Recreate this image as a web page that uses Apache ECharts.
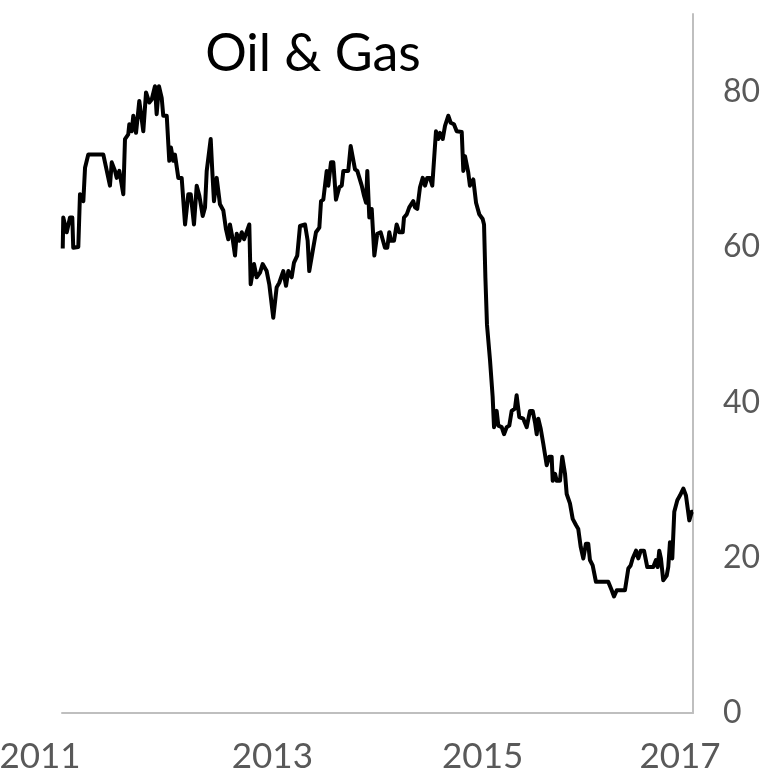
<!DOCTYPE html>
<html>
<head>
<meta charset="utf-8">
<script src="https://cdn.jsdelivr.net/npm/echarts@6/dist/echarts.min.js"></script>
<style>
  html, body { margin: 0; padding: 0; background: #fff; }
  #chart { width: 769px; height: 779px; }
</style>
</head>
<body>
<div id="chart"></div>
<script>
// decimal years
const dates = [
  2011.007, 2011.012, 2011.045, 2011.076, 2011.098, 2011.107, 2011.155, 2011.171, 2011.203, 2011.219,
  2011.250, 2011.393, 2011.456, 2011.473, 2011.504, 2011.520, 2011.545, 2011.583, 2011.599, 2011.630,
  2011.640, 2011.663, 2011.678, 2011.704, 2011.735, 2011.773, 2011.799, 2011.830, 2011.853, 2011.884,
  2011.900, 2011.922, 2011.948, 2011.963, 2011.996, 2012.020, 2012.036, 2012.058, 2012.074, 2012.106,
  2012.138, 2012.170, 2012.201, 2012.224, 2012.255, 2012.281, 2012.306, 2012.338, 2012.360, 2012.376,
  2012.391, 2012.414, 2012.429, 2012.445, 2012.471, 2012.502, 2012.534, 2012.559, 2012.581, 2012.597,
  2012.623, 2012.645, 2012.661, 2012.686, 2012.709, 2012.731, 2012.750, 2012.781, 2012.794, 2012.826,
  2012.851, 2012.883, 2012.908, 2012.946, 2012.971, 2013.009, 2013.041, 2013.066, 2013.104, 2013.130,
  2013.152, 2013.184, 2013.206, 2013.237, 2013.263, 2013.311, 2013.336, 2013.351, 2013.384, 2013.415,
  2013.447, 2013.463, 2013.485, 2013.517, 2013.532, 2013.558, 2013.580, 2013.605, 2013.637, 2013.660,
  2013.675, 2013.722, 2013.745, 2013.764, 2013.786, 2013.808, 2013.850, 2013.872, 2013.891, 2013.903,
  2013.922, 2013.945, 2013.970, 2013.998, 2014.030, 2014.049, 2014.071, 2014.093, 2014.112, 2014.128,
  2014.157, 2014.182, 2014.207, 2014.240, 2014.252, 2014.278, 2014.302, 2014.340, 2014.357, 2014.378,
  2014.404, 2014.430, 2014.452, 2014.473, 2014.499, 2014.521, 2014.556, 2014.578, 2014.594, 2014.620,
  2014.642, 2014.673, 2014.696, 2014.727, 2014.753, 2014.801, 2014.816, 2014.832, 2014.863, 2014.879,
  2014.911, 2014.937, 2014.968, 2015.000, 2015.013, 2015.026, 2015.041, 2015.070, 2015.095, 2015.108,
  2015.133, 2015.149, 2015.181, 2015.203, 2015.228, 2015.253, 2015.276, 2015.307, 2015.323, 2015.348,
  2015.386, 2015.419, 2015.450, 2015.476, 2015.498, 2015.514, 2015.529, 2015.552, 2015.576, 2015.609,
  2015.634, 2015.656, 2015.666, 2015.688, 2015.704, 2015.735, 2015.757, 2015.783, 2015.799, 2015.830,
  2015.856, 2015.887, 2015.909, 2015.932, 2015.957, 2015.982, 2016.004, 2016.020, 2016.046, 2016.061,
  2016.077, 2016.194, 2016.227, 2016.249, 2016.275, 2016.353, 2016.385, 2016.407, 2016.426, 2016.458,
  2016.480, 2016.503, 2016.534, 2016.565, 2016.622, 2016.648, 2016.664, 2016.679, 2016.695, 2016.717,
  2016.750, 2016.765, 2016.781, 2016.803, 2016.822, 2016.851, 2016.876, 2016.908, 2016.933, 2016.949,
  2016.965, 2016.988, 2017.000
];

const values = [
  59.8, 63.8, 61.9, 63.8, 63.8, 59.9, 60.0, 66.8, 65.9, 70.2,
  71.9, 71.9, 67.9, 70.9, 69.8, 68.9, 69.8, 66.8, 73.9, 74.5,
  75.8, 74.9, 76.9, 74.7, 78.8, 74.9, 79.9, 78.6, 79.0, 80.7,
  77.1, 80.7, 79.2, 76.9, 76.9, 71.1, 72.8, 71.1, 71.9, 68.9,
  68.9, 62.9, 66.8, 66.8, 62.9, 67.9, 66.6, 64.0, 65.1, 69.8,
  70.0, 73.9, 69.8, 65.9, 68.9, 65.5, 64.7, 62.3, 61.0, 62.9,
  61.0, 58.9, 61.7, 60.8, 61.9, 61.0, 61.7, 62.9, 55.2, 57.8,
  56.1, 56.7, 57.8, 56.9, 55.2, 50.9, 54.8, 55.4, 56.9, 55.0,
  56.9, 56.1, 58.0, 58.9, 62.7, 62.9, 60.8, 56.9, 59.5, 61.9,
  62.5, 65.9, 66.1, 69.8, 67.9, 70.9, 70.9, 66.1, 67.7, 67.9,
  69.8, 69.8, 73.0, 72.8, 70.0, 69.8, 67.9, 66.6, 65.7, 69.8,
  63.8, 64.9, 58.9, 61.7, 61.9, 61.9, 59.9, 59.9, 61.9, 60.8,
  60.8, 62.9, 61.9, 61.9, 63.8, 64.2, 65.1, 65.9, 65.1, 64.9,
  67.7, 68.9, 67.9, 68.9, 68.9, 67.9, 74.9, 73.9, 74.7, 73.9,
  75.6, 76.9, 76.0, 75.8, 74.9, 74.8, 69.8, 71.7, 69.6, 67.9,
  68.7, 65.7, 64.2, 63.6, 62.9, 56.0, 50.0, 45.4, 40.7, 36.8,
  38.9, 37.0, 36.8, 35.9, 36.8, 37.0, 38.9, 39.2, 40.9, 38.1,
  37.9, 36.8, 38.9, 38.9, 37.4, 35.9, 37.9, 36.6, 34.7, 31.9,
  33.0, 33.0, 29.9, 30.8, 29.9, 29.9, 33.0, 30.8, 28.2, 27.0,
  25.0, 24.2, 23.7, 21.4, 19.9, 21.8, 21.8, 19.7, 19.0, 18.8,
  16.9, 16.9, 15.8, 15.0, 15.8, 15.8, 18.6, 19.0, 19.9, 20.9,
  19.9, 20.9, 20.9, 18.8, 18.8, 19.7, 18.8, 20.9, 19.9, 17.1,
  17.7, 18.8, 22.0, 19.9, 25.9, 27.4, 28.0, 28.9, 28.0, 28.0,
  24.8, 25.9, 25.9
];

const startYear = 2011;
const yearTicks = [0, 2, 4, 6]; // years after startYear
const valueTicks = [0, 20, 40, 60, 80];

const grey = '#595959';
const font = 'Lato, "Noto Sans", sans-serif';

const chart = echarts.init(document.getElementById('chart'));

chart.setOption({
  animation: false,
  backgroundColor: '#fff',
  title: {
    text: 'Oil & Gas',
    left: 308,
    top: 23,
    textAlign: 'center',
    textStyle: { fontFamily: font, fontSize: 52, fontWeight: 'normal', color: '#000' }
  },
  grid: { left: 62, right: 76, top: 14, bottom: 66, outerBoundsMode: 'none', containLabel: false },
  xAxis: {
    type: 'value',
    min: 0,
    max: 6,
    interval: 2,
    splitLine: { show: false },
    axisTick: { show: false },
    axisLine: { onZero: false, lineStyle: { color: '#bfbfbf', width: 2 } },
    axisLabel: {
      margin: 26,
      fontFamily: font,
      fontSize: 35,
      color: grey,
      formatter: function (v) {
        if (yearTicks.indexOf(v) < 0) return '';
        if (v === 0) return '{first|' + (startYear + v) + '}';
        if (v === 6) return '{last|' + (startYear + v) + '}';
        return String(startYear + v);
      },
      rich: {
        first: { fontFamily: font, fontSize: 35, color: grey, padding: [0, 44, 0, 0] },
        last: { fontFamily: font, fontSize: 35, color: grey, padding: [0, 26, 0, 0] }
      }
    }
  },
  yAxis: {
    type: 'value',
    position: 'right',
    min: 0,
    max: 90,
    interval: 20,
    splitLine: { show: false },
    axisTick: { show: false },
    axisLine: { show: true, onZero: false, lineStyle: { color: '#bfbfbf', width: 2 } },
    axisLabel: {
      margin: 30,
      fontFamily: font,
      fontSize: 32,
      color: grey,
      formatter: function (v) {
        return valueTicks.indexOf(v) >= 0 ? String(v) : '';
      }
    }
  },
  series: [{
    type: 'line',
    showSymbol: false,
    data: dates.map(function (d, i) { return [d - startYear, values[i]]; }),
    lineStyle: { color: '#000', width: 4, join: 'round' },
    itemStyle: { color: '#000' }
  }]
});
</script>
</body>
</html>
